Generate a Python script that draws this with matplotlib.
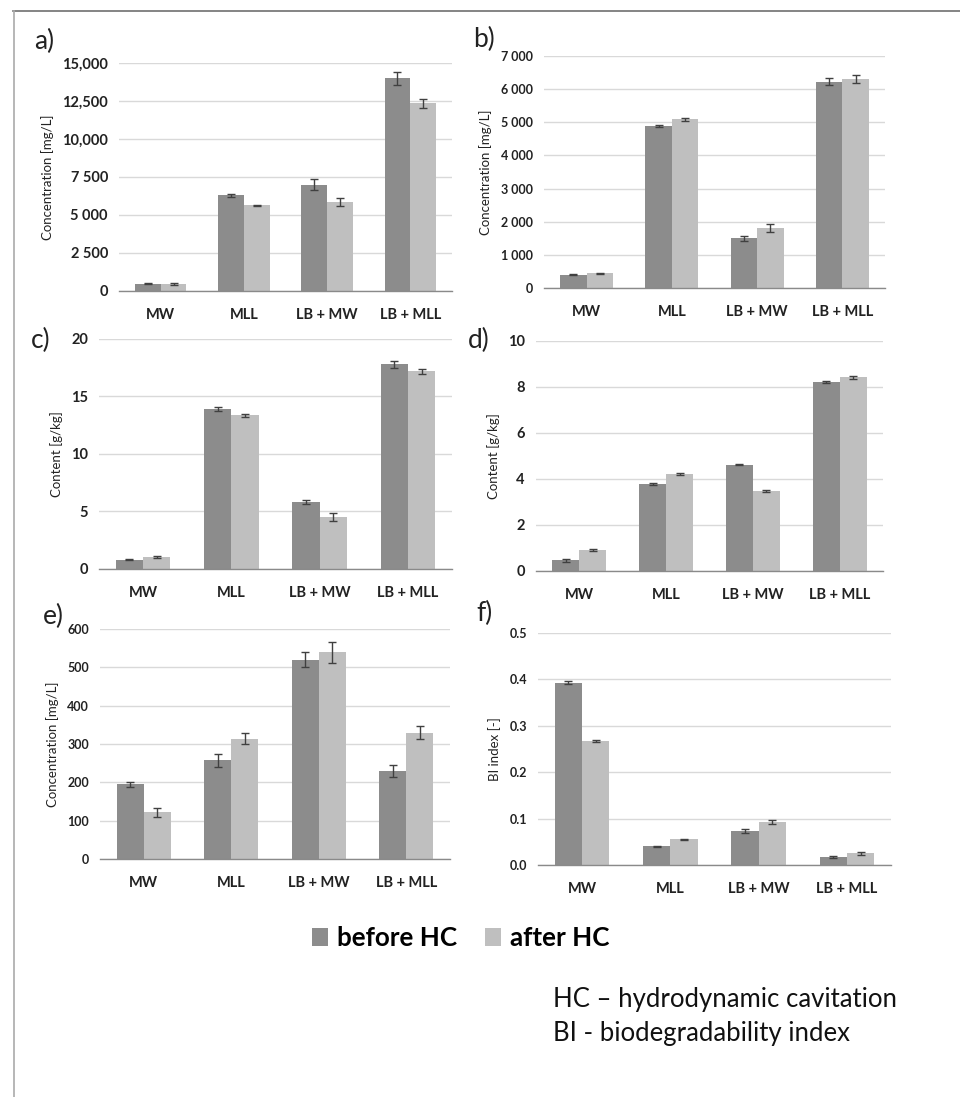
import matplotlib
matplotlib.use("Agg")
import matplotlib.pyplot as plt
import numpy as np
from matplotlib.patches import Patch
from matplotlib.lines import Line2D
from matplotlib.ticker import FixedLocator

plt.rcParams['font.family'] = ['Lato', 'DejaVu Sans']

categories = ["MW", "MLL", "LB + MW", "LB + MLL"]
series_names = ["before HC", "after HC"]

# a) Concentration [mg/L]
a_before = [480, 6300, 7000, 14000]
a_before_err = [40, 110, 360, 420]
a_after = [460, 5630, 5870, 12360]
a_after_err = [40, 60, 260, 300]
a_ticks = [0, 2500, 5000, 7500, 10000, 12500, 15000]
a_ticklabels = ["0", "2 500", "5 000", "7 500", "10,000", "12,500", "15,000"]

# b) Concentration [mg/L]
b_before = [400, 4900, 1500, 6230]
b_before_err = [20, 30, 80, 100]
b_after = [440, 5090, 1810, 6310]
b_after_err = [20, 40, 110, 110]
b_ticks = [0, 1000, 2000, 3000, 4000, 5000, 6000, 7000]
b_ticklabels = ["0", "1 000", "2 000", "3 000", "4 000", "5 000", "6 000", "7 000"]

# c) Content [g/kg]
c_before = [0.81, 13.9, 5.85, 17.8]
c_before_err = [0.05, 0.2, 0.16, 0.32]
c_after = [1.04, 13.35, 4.52, 17.2]
c_after_err = [0.07, 0.12, 0.32, 0.23]
c_ticks = [0, 5, 10, 15, 20]
c_ticklabels = ["0", "5", "10", "15", "20"]

# d) Content [g/kg]
d_before = [0.46, 3.8, 4.63, 8.23]
d_before_err = [0.06, 0.04, 0.04, 0.05]
d_after = [0.91, 4.21, 3.49, 8.42]
d_after_err = [0.03, 0.03, 0.05, 0.06]
d_ticks = [0, 2, 4, 6, 8, 10]
d_ticklabels = ["0", "2", "4", "6", "8", "10"]

# e) Concentration [mg/L]
e_before = [195, 257, 520, 230]
e_before_err = [7, 16, 20, 16]
e_after = [122, 314, 539, 330]
e_after_err = [12, 15, 27, 16]
e_ticks = [0, 100, 200, 300, 400, 500, 600]
e_ticklabels = ["0", "100", "200", "300", "400", "500", "600"]

# f) BI index [-]
f_before = [0.393, 0.040, 0.073, 0.0165]
f_before_err = [0.003, 0.002, 0.004, 0.002]
f_after = [0.268, 0.055, 0.092, 0.025]
f_after_err = [0.002, 0.002, 0.004, 0.004]
f_ticks = [0.0, 0.1, 0.2, 0.3, 0.4, 0.5]
f_ticklabels = ["0.0", "0.1", "0.2", "0.3", "0.4", "0.5"]

W, H = 960, 1097
fig = plt.figure(figsize=(W / 100, H / 100), dpi=100)

C_BEFORE = "#8c8c8c"
C_AFTER = "#bfbfbf"
C_ERR = "#404040"


def rect(x0, x1, yt, yb):
    return [x0 / W, 1 - yb / H, (x1 - x0) / W, (yb - yt) / H]


panels = [
    ("a)", rect(119, 452, 63, 291), a_before, a_before_err, a_after, a_after_err,
     a_ticks, a_ticklabels, "Concentration [mg/L]", 10.5, (34, 41)),
    ("b)", rect(544, 885, 56, 288), b_before, b_before_err, b_after, b_after_err,
     b_ticks, b_ticklabels, "Concentration [mg/L]", 9, (473, 39)),
    ("c)", rect(99, 452, 339, 569), c_before, c_before_err, c_after, c_after_err,
     c_ticks, c_ticklabels, "Content [g/kg]", 10.5, (31, 340)),
    ("d)", rect(536, 883, 341, 571), d_before, d_before_err, d_after, d_after_err,
     d_ticks, d_ticklabels, "Content [g/kg]", 10.5, (468, 340)),
    ("e)", rect(100, 450, 629, 859), e_before, e_before_err, e_after, e_after_err,
     e_ticks, e_ticklabels, "Concentration [mg/L]", 9, (43, 616)),
    ("f)", rect(538, 891, 633, 865), f_before, f_before_err, f_after, f_after_err,
     f_ticks, f_ticklabels, "BI index [-]", 9, (476, 613)),
]

x = np.arange(len(categories))
bw = 0.31

for (lab, r, bef, befe, aft, afte, ticks, tlabels, ylabel, tfs, lpos) in panels:
    ax = fig.add_axes(r)
    ax.bar(x - bw / 2, bef, bw, color=C_BEFORE, yerr=befe,
           error_kw=dict(ecolor=C_ERR, elinewidth=1.0, capsize=3, capthick=1.0), zorder=3)
    ax.bar(x + bw / 2, aft, bw, color=C_AFTER, yerr=afte,
           error_kw=dict(ecolor=C_ERR, elinewidth=1.0, capsize=3, capthick=1.0), zorder=3)
    ax.set_xlim(-0.5, len(categories) - 0.5)
    ax.set_ylim(ticks[0], ticks[-1])
    ax.yaxis.set_major_locator(FixedLocator(ticks))
    ax.set_yticklabels(tlabels, fontsize=tfs, fontweight='bold', color='#222222')
    ax.set_xticks(x)
    ax.set_xticklabels(categories, fontsize=10.5, fontweight='bold', color='#222222')
    ax.tick_params(axis='both', length=0)
    ax.tick_params(axis='x', pad=12)
    ax.tick_params(axis='y', pad=8)
    ax.grid(axis='y', color='#d9d9d9', linewidth=1.0, zorder=0)
    for s in ['top', 'right', 'left']:
        ax.spines[s].set_visible(False)
    ax.spines['bottom'].set_color('#8a8a8a')
    ax.spines['bottom'].set_linewidth(1.0)
    ax.spines['bottom'].set_zorder(4)
    ax.set_ylabel(ylabel, fontsize=9.5, color='#222222', labelpad=6)
    fig.text(lpos[0] / W, 1 - lpos[1] / H, lab, fontsize=19, va='center', ha='left',
             color='#222222')

# Frame lines
fig.add_artist(Line2D([13 / W, 1.0], [1 - 11 / H, 1 - 11 / H], color='#707070', linewidth=1.2))
fig.add_artist(Line2D([14 / W, 14 / W], [1 - 11 / H, 0.0], color='#aaaaaa', linewidth=1.2))

# Legend
handles = [Patch(facecolor=C_BEFORE, edgecolor='none'), Patch(facecolor=C_AFTER, edgecolor='none')]
fig.legend(handles, series_names, loc='center left', bbox_to_anchor=(312 / W, 1 - 938 / H),
           ncol=2, frameon=False, prop={'size': 18.7, 'weight': 'bold'}, borderpad=0,
           borderaxespad=0, handlelength=0.62, handleheight=0.7, handletextpad=0.35,
           columnspacing=1.05)

# Notes
fig.text(553 / W, 1 - 1000 / H, "HC \u2013 hydrodynamic cavitation", fontsize=18.5,
         va='center', ha='left', color='#111111')
fig.text(553 / W, 1 - 1034 / H, "BI - biodegradability index", fontsize=18.5,
         va='center', ha='left', color='#111111')

fig.savefig("out.png", dpi=100, facecolor='white')
